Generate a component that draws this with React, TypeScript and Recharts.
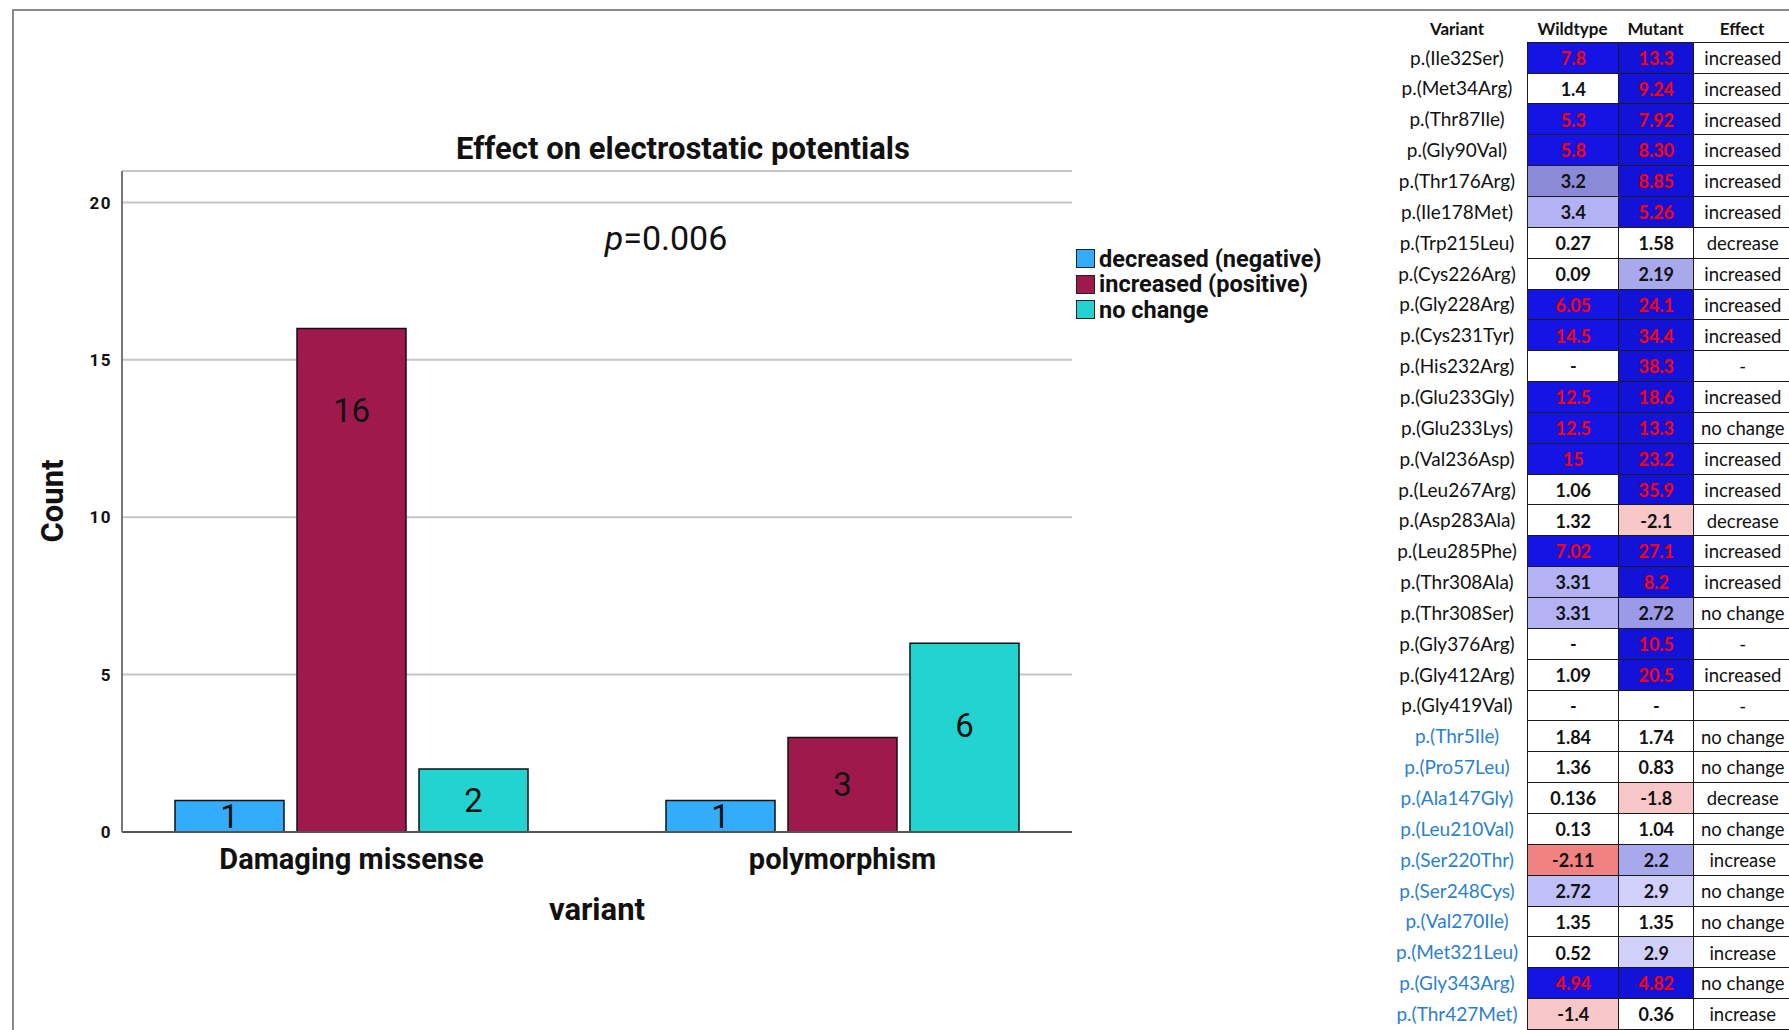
import React from 'react';
import { BarChart, Bar, XAxis, YAxis, CartesianGrid, Legend, LabelList } from 'recharts';

// bar chart data
const categories = ['Damaging missense', 'polymorphism'];
const decreasedCounts = [1, 1];
const increasedCounts = [16, 3];
const noChangeCounts = [2, 6];
const yTicks = [0, 5, 10, 15, 20];

// table data
const damagingVariants = [
  'p.(Ile32Ser)', 'p.(Met34Arg)', 'p.(Thr87Ile)', 'p.(Gly90Val)', 'p.(Thr176Arg)', 'p.(Ile178Met)',
  'p.(Trp215Leu)', 'p.(Cys226Arg)', 'p.(Gly228Arg)', 'p.(Cys231Tyr)', 'p.(His232Arg)', 'p.(Glu233Gly)',
  'p.(Glu233Lys)', 'p.(Val236Asp)', 'p.(Leu267Arg)', 'p.(Asp283Ala)', 'p.(Leu285Phe)', 'p.(Thr308Ala)',
  'p.(Thr308Ser)', 'p.(Gly376Arg)', 'p.(Gly412Arg)', 'p.(Gly419Val)',
];
const polymorphismVariants = [
  'p.(Thr5Ile)', 'p.(Pro57Leu)', 'p.(Ala147Gly)', 'p.(Leu210Val)', 'p.(Ser220Thr)',
  'p.(Ser248Cys)', 'p.(Val270Ile)', 'p.(Met321Leu)', 'p.(Gly343Arg)', 'p.(Thr427Met)',
];
const wildtypeValues = [
  '7.8', '1.4', '5.3', '5.8', '3.2', '3.4', '0.27', '0.09', '6.05', '14.5', '-', '12.5', '12.5', '15',
  '1.06', '1.32', '7.02', '3.31', '3.31', '-', '1.09', '-',
  '1.84', '1.36', '0.136', '0.13', '-2.11', '2.72', '1.35', '0.52', '4.94', '-1.4',
];
const mutantValues = [
  '13.3', '9.24', '7.92', '8.30', '8.85', '5.26', '1.58', '2.19', '24.1', '34.4', '38.3', '18.6', '13.3', '23.2',
  '35.9', '-2.1', '27.1', '8.2', '2.72', '10.5', '20.5', '-',
  '1.74', '0.83', '-1.8', '1.04', '2.2', '2.9', '1.35', '2.9', '4.82', '0.36',
];
const effects = [
  'increased', 'increased', 'increased', 'increased', 'increased', 'increased', 'decrease', 'increased',
  'increased', 'increased', '-', 'increased', 'no change', 'increased', 'increased', 'decrease', 'increased',
  'increased', 'no change', '-', 'increased', '-',
  'no change', 'no change', 'decrease', 'no change', 'increase', 'no change', 'no change', 'increase',
  'no change', 'increase',
];

const chartData = categories.map((name, i) => ({
  name,
  decreased: decreasedCounts[i],
  increased: increasedCounts[i],
  noChange: noChangeCounts[i],
}));

const variants = [...damagingVariants, ...polymorphismVariants];

const wildtypeFill = (s: string) => {
  const v = parseFloat(s);
  if (isNaN(v)) return '#fff';
  if (v >= 4) return '#1414e4';
  if (v >= 3.3) return '#b2b2f4';
  if (v >= 3) return '#8a8ad6';
  if (v >= 2.5) return '#c0c0f8';
  if (v <= -2) return '#f08282';
  if (v < 0) return '#f8c8c8';
  return '#fff';
};

const mutantFill = (s: string) => {
  const v = parseFloat(s);
  if (isNaN(v)) return '#fff';
  if (v >= 4) return '#1212d8';
  if (v >= 2.85) return '#d0d0fa';
  if (v >= 2.5) return '#9a9ae8';
  if (v >= 2) return '#a8a8ec';
  if (v < 0) return '#f8c8c8';
  return '#fff';
};

const valueColor = (s: string) => (parseFloat(s) >= 4 ? '#ff0000' : '#111');

const BarValue = (props: any) => {
  const { x, y, width, height, value } = props;
  return (
    <text
      x={x + width / 2}
      y={y + Math.min(height / 2, 82)}
      textAnchor="middle"
      dominantBaseline="central"
      fontFamily="Roboto"
      fontSize={33}
      fill="#111"
    >
      {value}
    </text>
  );
};

const LegendBox = ({ payload }: any) => (
  <div style={{ width: 262, whiteSpace: 'nowrap', fontFamily: 'Roboto', fontWeight: 700, fontSize: 23.5, color: '#111' }}>
    {(payload || []).map((p: any) => (
      <div key={p.value} style={{ display: 'flex', alignItems: 'center', height: 25.5 }}>
        <span style={{ display: 'inline-block', flex: 'none', boxSizing: 'border-box', width: 19, height: 19, background: p.color, border: '1.5px solid #222', marginRight: 4 }} />
        {p.value}
      </div>
    ))}
  </div>
);

const colX = [1387, 1527, 1618, 1693];
const colW = [140, 91, 75, 98];
const tableTop = 41.7;
const rowH = 30.85;

const VariantTable = () => (
  <div style={{ position: 'absolute', left: 0, top: 0, fontFamily: 'Lato', color: '#111' }}>
    {['Variant', 'Wildtype', 'Mutant', 'Effect'].map((h, c) => (
      <div key={h} style={{ position: 'absolute', left: colX[c], top: 18, width: colW[c], textAlign: 'center', fontWeight: 700, fontSize: 17 }}>{h}</div>
    ))}
    {variants.map((name, i) => {
      const top = tableTop + i * rowH;
      const cell = (c: number, bg: string): React.CSSProperties => ({
        position: 'absolute', left: colX[c], top, width: colW[c] + 1.5, height: rowH + 1.5, boxSizing: 'border-box',
        border: '1.5px solid #1a1a1a', background: bg, display: 'flex', alignItems: 'center', justifyContent: 'center',
      });
      return (
        <React.Fragment key={name}>
          <div style={{ position: 'absolute', left: colX[0] - 5, top, width: colW[0] + 10, height: rowH, display: 'flex', alignItems: 'center', justifyContent: 'center', fontSize: 19, whiteSpace: 'nowrap', color: i >= damagingVariants.length ? '#2a7fd0' : '#111' }}>{name}</div>
          <div style={{ ...cell(1, wildtypeFill(wildtypeValues[i])), fontWeight: 700, fontSize: 18, color: valueColor(wildtypeValues[i]) }}>{wildtypeValues[i]}</div>
          <div style={{ ...cell(2, mutantFill(mutantValues[i])), fontWeight: 700, fontSize: 18, color: valueColor(mutantValues[i]) }}>{mutantValues[i]}</div>
          <div style={{ ...cell(3, '#fff'), fontSize: 18.5, whiteSpace: 'nowrap' }}>{effects[i]}</div>
        </React.Fragment>
      );
    })}
  </div>
);

export default function App() {
  return (
    <div style={{ position: 'absolute', left: 0, top: 0, width: 1789, height: 1030, background: '#fff', overflow: 'hidden' }}>
      <div style={{ position: 'absolute', left: 12, top: 9, width: 1900, height: 1100, borderTop: '2px solid #8a8a8a', borderLeft: '2px solid #8a8a8a' }} />
      <div style={{ position: 'absolute', left: 0, top: 0 }}>
        <BarChart
          width={1360}
          height={1030}
          data={chartData}
          margin={{ top: 171, right: 288, bottom: 138, left: 62 }}
          barSize={109}
          barGap={13}
        >
          <CartesianGrid vertical={false} stroke="#c6c6c6" strokeWidth={2} />
          <XAxis
            dataKey="name"
            height={60}
            padding={{ left: -16, right: -16 }}
            tickLine={false}
            tickSize={0}
            tickMargin={16}
            axisLine={{ stroke: '#555', strokeWidth: 2 }}
            tick={{ fill: '#111', fontSize: 29, fontWeight: 700, fontFamily: 'Roboto' }}
            label={{ value: 'variant', position: 'bottom', offset: 6, fill: '#111', fontSize: 31, fontWeight: 700, fontFamily: 'Roboto' }}
          />
          <YAxis
            width={60}
            domain={[0, 21]}
            ticks={yTicks}
            tickLine={false}
            tickSize={0}
            tickMargin={10}
            axisLine={{ stroke: '#777', strokeWidth: 2 }}
            tick={{ fill: '#111', fontSize: 17, fontWeight: 700, fontFamily: 'Roboto', letterSpacing: 1.5 }}
          />
          <Legend
            layout="vertical"
            align="center"
            verticalAlign="middle"
            content={<LegendBox />}
            wrapperStyle={{ left: 1076, top: 246, width: 262 }}
          />
          <Bar dataKey="decreased" name="decreased (negative)" fill="#33adfb" stroke="#111" strokeWidth={1.5} isAnimationActive={false}>
            <LabelList dataKey="decreased" content={<BarValue />} />
          </Bar>
          <Bar dataKey="increased" name="increased (positive)" fill="#a0194d" stroke="#111" strokeWidth={1.5} isAnimationActive={false}>
            <LabelList dataKey="increased" content={<BarValue />} />
          </Bar>
          <Bar dataKey="noChange" name="no change" fill="#22d3d0" stroke="#111" strokeWidth={1.5} isAnimationActive={false}>
            <LabelList dataKey="noChange" content={<BarValue />} />
          </Bar>
        </BarChart>
      </div>
      <div style={{ position: 'absolute', left: 683, top: 148, transform: 'translate(-50%, -50%)', whiteSpace: 'nowrap', fontFamily: 'Roboto', fontWeight: 700, fontSize: 31, color: '#111' }}>
        Effect on electrostatic potentials
      </div>
      <div style={{ position: 'absolute', left: 666, top: 238, transform: 'translate(-50%, -50%)', whiteSpace: 'nowrap', fontFamily: 'Roboto', fontSize: 34, color: '#111' }}>
        <i>p</i>=0.006
      </div>
      <div style={{ position: 'absolute', left: 52, top: 501, transform: 'translate(-50%, -50%) rotate(-90deg)', whiteSpace: 'nowrap', fontFamily: 'Roboto', fontWeight: 700, fontSize: 31, color: '#111' }}>
        Count
      </div>
      <VariantTable />
    </div>
  );
}
